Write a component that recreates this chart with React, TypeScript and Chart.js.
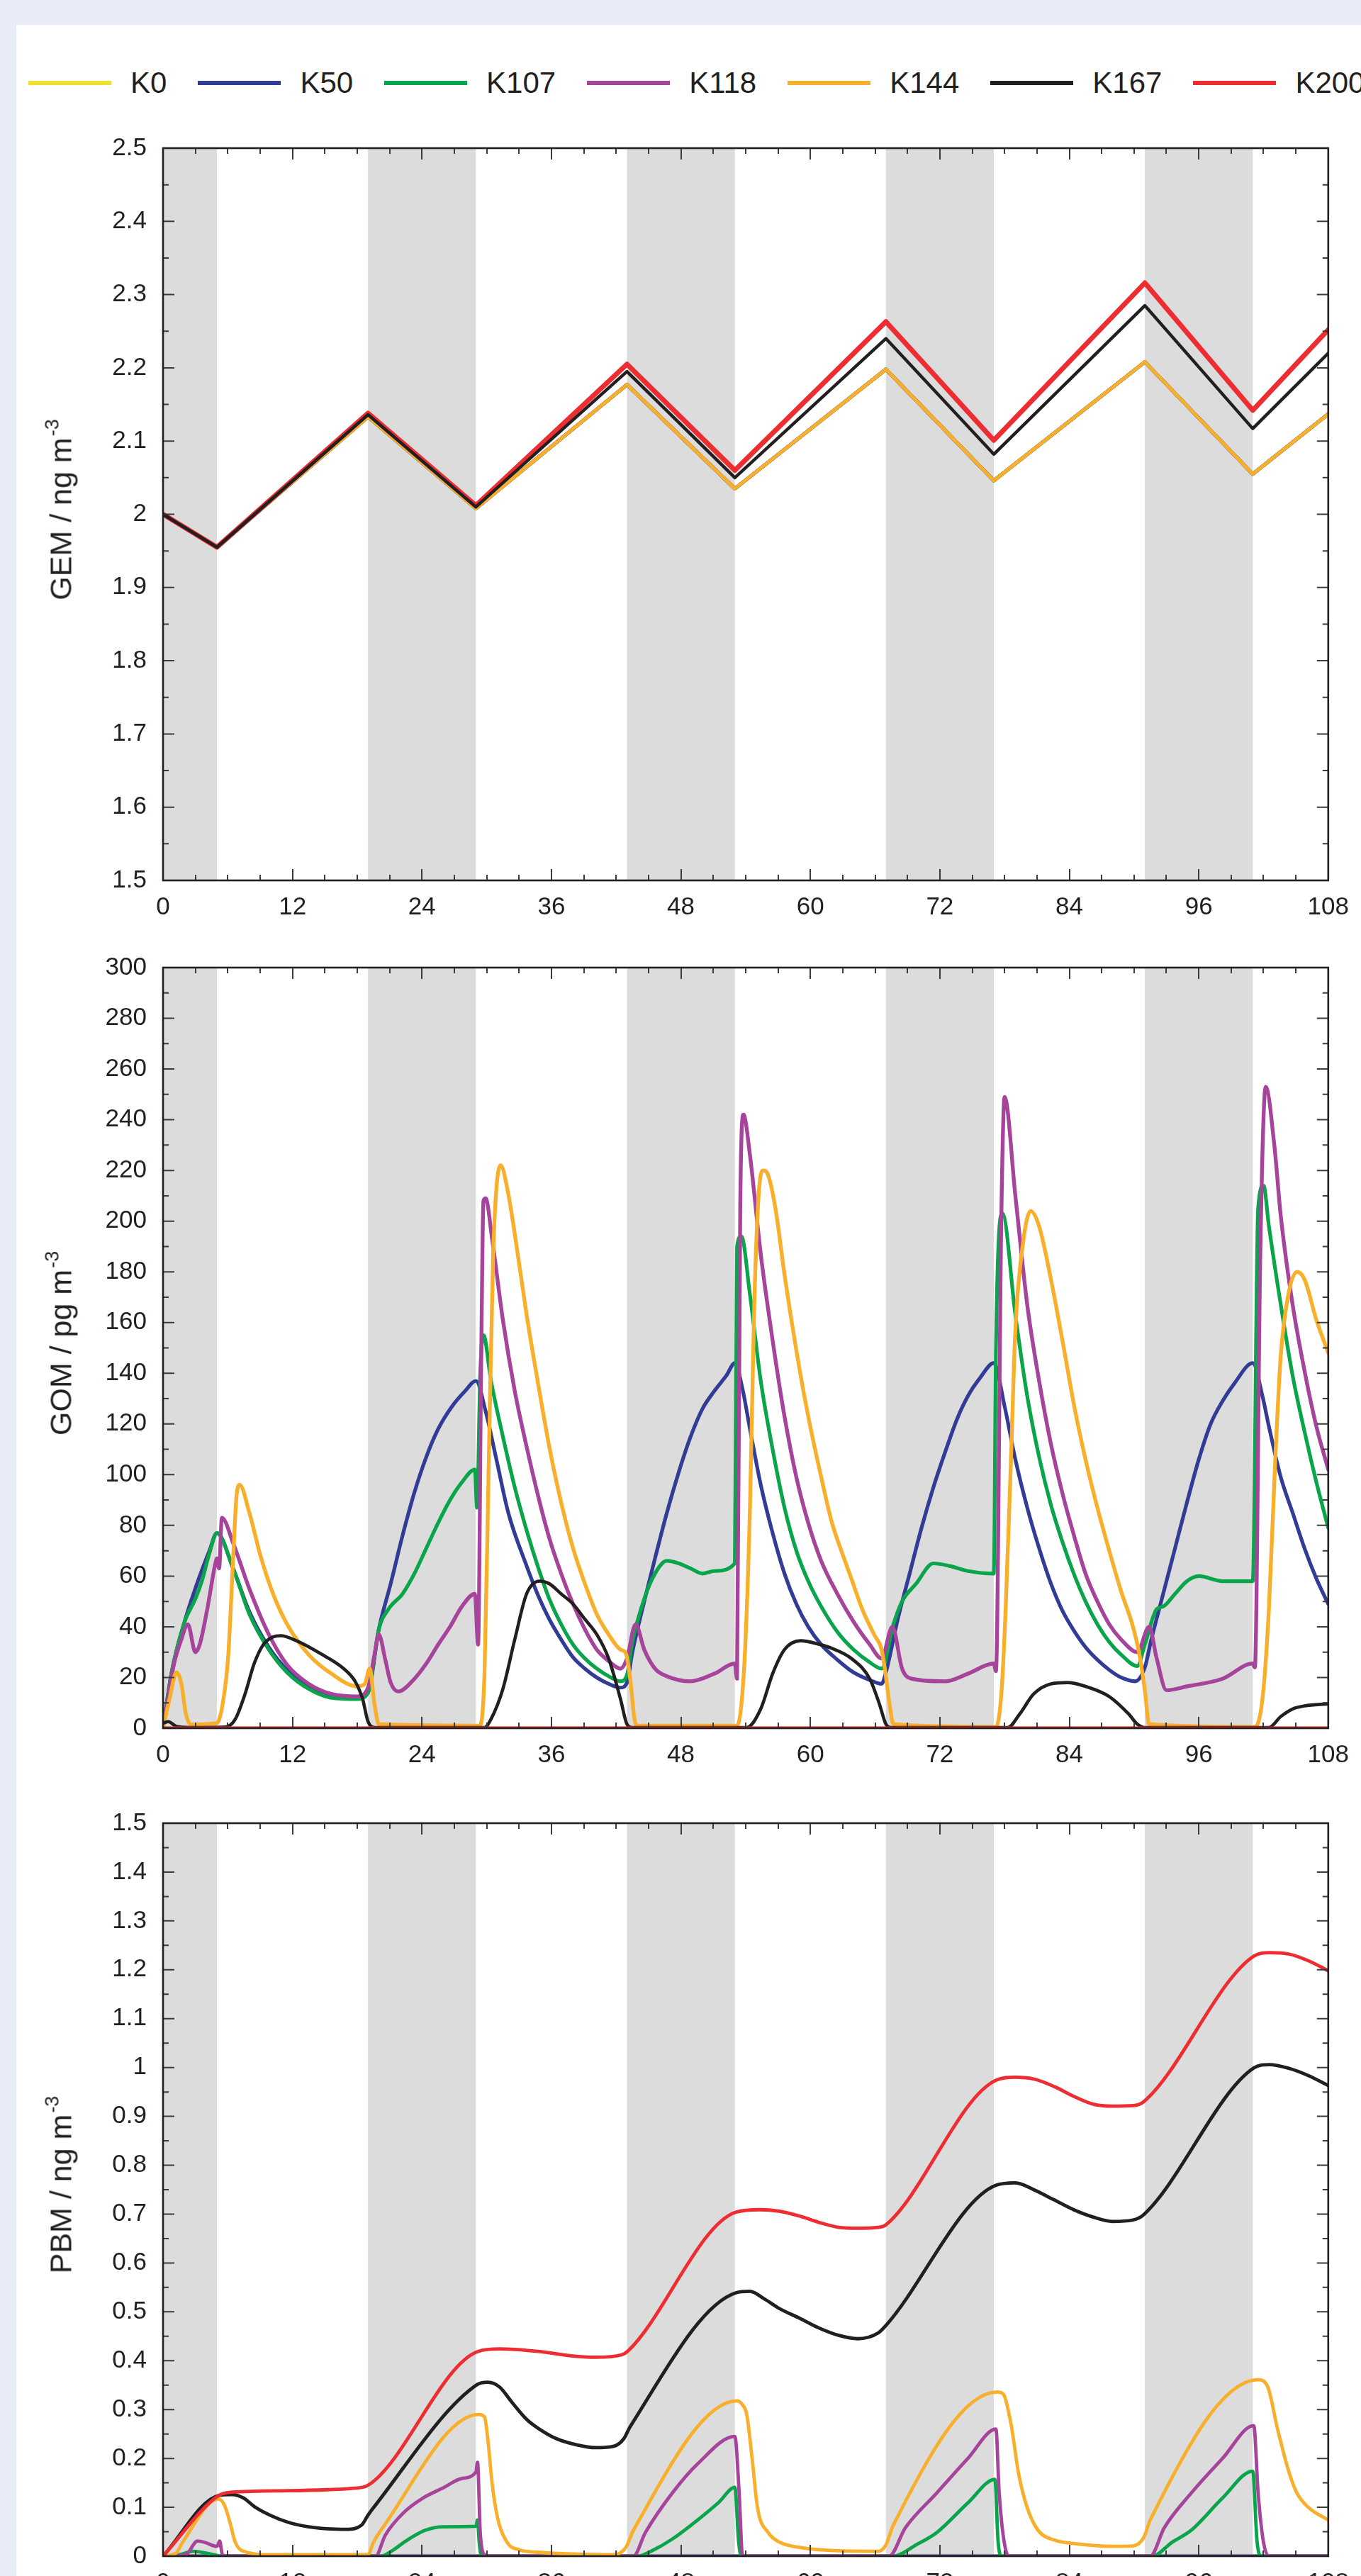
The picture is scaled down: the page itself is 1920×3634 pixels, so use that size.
import React, { useEffect, useRef } from "react";
import { Chart, registerables } from "chart.js";
Chart.register(...registerables);

// ---------------- data ----------------
const SERIES_NAMES = ["K0", "K50", "K107", "K118", "K144", "K167", "K200"];
const SERIES_COLORS = ["#f0e12e", "#323c96", "#0aa54a", "#a6449b", "#f8b02c", "#231f20", "#ee2d33"];

const X_TICKS = [0, 12, 24, 36, 48, 60, 72, 84, 96, 108];
const GEM_TICKS = [1.5, 1.6, 1.7, 1.8, 1.9, 2, 2.1, 2.2, 2.3, 2.4, 2.5];
const GOM_TICKS = [0, 20, 40, 60, 80, 100, 120, 140, 160, 180, 200, 220, 240, 260, 280, 300];
const PBM_TICKS = [0, 0.1, 0.2, 0.3, 0.4, 0.5, 0.6, 0.7, 0.8, 0.9, 1, 1.1, 1.2, 1.3, 1.4, 1.5];
const NIGHTS: [number, number][] = [[0, 5], [19, 29], [43, 53], [67, 77], [91, 101]];

// GEM (ng m-3): K0..K144 overlap each other
const GEM_T = [0, 5, 19, 29, 43, 53, 67, 77, 91, 101, 108];
const GEM_K0 = [2.0, 1.955, 2.133, 2.008, 2.177, 2.035, 2.198, 2.046, 2.208, 2.055, 2.137];
const GEM_K50 = [2.0, 1.955, 2.133, 2.008, 2.177, 2.035, 2.198, 2.046, 2.208, 2.055, 2.137];
const GEM_K107 = [2.0, 1.955, 2.133, 2.008, 2.177, 2.035, 2.198, 2.046, 2.208, 2.055, 2.137];
const GEM_K118 = [2.0, 1.955, 2.133, 2.008, 2.177, 2.035, 2.198, 2.046, 2.208, 2.055, 2.137];
const GEM_K144 = [2.0, 1.955, 2.133, 2.008, 2.177, 2.035, 2.198, 2.046, 2.208, 2.055, 2.137];
const GEM_K167 = [2.0, 1.955, 2.136, 2.010, 2.195, 2.050, 2.240, 2.082, 2.285, 2.117, 2.220];
const GEM_K200 = [2.0, 1.955, 2.138, 2.012, 2.205, 2.060, 2.263, 2.101, 2.316, 2.142, 2.252];

// GOM (pg m-3): [hour, value]
const GOM_K0: [number, number][] = [[0, 0], [108, 0]];
const GOM_K50: [number, number][] = [[0,0],[0.8,22],[2,42],[3.4,60],[4.3,70],[5,77],[6.5,63],[8,46],[9.8,32],[11.5,23],[13.5,16.5],[15.6,13],[18,12],[19,14],[20,39],[21.1,57],[22.2,76],[23.3,93],[24.4,107],[25.5,118],[26.8,127],[28,133],[29,137],[29.9,125],[30.9,106],[32,85],[33.7,64],[34.8,52],[35.8,43],[36.9,35],[38,28],[39.1,23.5],[40.2,20],[41.3,17.5],[42.4,16],[43,18],[43.5,30],[44.6,50],[45.6,67],[46.7,85],[47.8,101],[48.9,115],[50,126],[51.1,133],[52.2,139],[53,144],[53.7,134],[54.4,118],[55.4,96],[56.5,77],[57.6,61],[58.7,49],[59.8,40],[61,33],[62.5,27],[64,22],[65.5,19],[66.6,17.5],[67,22],[68.1,43],[69.2,61],[70.3,79],[71.4,95],[72.5,109],[73.6,122],[74.6,131],[75.7,138],[77,144],[78,127],[79,106],[80.1,87],[81.2,71],[82.3,57],[83.4,46],[84.5,38],[85.5,32],[86.6,27],[87.7,23],[88.8,20],[90.1,18.5],[91,24],[91.6,35],[92.7,53],[93.8,71],[94.9,89],[96,106],[97.1,120],[98.2,129],[99.3,136],[101,144],[101.9,131],[102.5,119],[103.6,99],[104.7,85],[105.8,71],[106.9,59],[108,49]];
const GOM_K107: [number, number][] = [[0,0],[0.8,22],[2,42],[3,51],[3.6,58],[4.3,69],[5,77],[6.5,63],[8,45],[9.8,31],[11.5,22],[13.5,15.5],[15.6,12],[18,11.5],[19,14],[20,39],[20.9,47],[22.2,53],[23.3,61],[24.4,71],[25.5,81],[26.6,90],[27.7,97],[28.9,102],[29.1,87],[29.4,140],[29.7,155],[30.4,137],[31.5,115],[32.6,95],[33.7,78],[34.8,63],[35.8,51],[36.9,41],[38,33],[39.1,27.5],[40.2,23.5],[41.3,20.5],[42.4,18.5],[43,21],[43.5,34],[44.6,51],[45.6,61],[46.7,66],[47.8,65],[48.9,63],[50,61],[51.1,62],[53,65],[53.2,190],[53.6,194],[54.4,171],[55.4,137],[56.5,110],[57.6,87],[58.7,70],[59.8,58],[61,48],[62.5,38],[64,31],[65.5,26],[66.6,23.5],[67.7,41],[68.5,50],[69.8,57],[71.4,65],[72.9,64],[74.6,62],[77,61],[77.2,150],[77.8,203],[79,163],[80.1,131],[81.2,107],[82.3,88],[83.4,73],[84.5,60],[85.5,50],[86.6,41],[87.7,34],[88.8,29],[90.3,24.5],[91,33],[92.1,47],[92.7,48],[93.8,53],[94.9,58],[96,60],[98.2,58],[101,58],[101.5,205],[102,214],[102.5,198],[103.6,167],[104.7,139],[105.8,117],[106.9,97],[108,79]];
const GOM_K118: [number, number][] = [[0,0],[1,25],[1.7,35],[2.3,41],[3,30],[3.4,33],[4.1,47],[4.85,65],[5,67],[5.2,63],[5.45,83],[6.5,73],[8,55],[9.8,37],[11.5,25],[13.5,17.5],[15.6,13.5],[18,12.5],[19,16],[19.6,29],[20,37],[20.6,27],[21.1,18],[21.8,14.5],[23.3,19.5],[24.4,25.5],[25.5,33],[26.6,40],[27.7,48],[28.9,53],[29.2,33],[29.5,150],[29.7,208],[29.9,209],[30.5,193],[31.5,161],[32.6,133],[33.7,111],[34.8,91],[35.8,75],[36.9,61],[38,49],[39.1,39],[40.2,31],[41.3,26.5],[42.4,23.5],[43,27.5],[43.8,41],[44.6,31],[45.6,23.5],[46.7,20.5],[48.9,18.5],[51.1,21.5],[53,25.5],[53.2,19.5],[53.5,206],[53.8,242],[54.4,226],[55.4,187],[56.5,153],[57.6,123],[58.7,99],[59.8,81],[61,66],[62.5,53],[64,42],[65.5,33],[66.6,27.5],[67.6,40],[68.5,23.5],[69.4,19.5],[72.5,18.5],[74.6,21.5],[77,25.5],[77.2,22.5],[77.7,202],[78,249],[79,210],[80.1,167],[81.2,137],[82.3,112],[83.4,92],[84.5,75],[85.5,61],[86.6,50],[87.7,41],[88.8,35],[90.3,30],[91.4,40],[92.1,27.5],[93,15],[94.9,16.5],[98.2,19.5],[101,25.5],[101.2,24],[101.7,187],[102.2,253],[103,230],[103.6,202],[104.7,167],[105.8,141],[106.9,119],[108,102]];
const GOM_K144: [number, number][] = [[0,0],[0.6,11.5],[1.25,22],[1.7,17.5],[2.1,6],[2.6,1.5],[5,2],[5.6,11.5],[6.05,29],[6.5,67],[6.8,91],[7.1,96],[8,85],[9.1,67],[10.2,53],[11.5,41],[13.5,29],[15.6,21.5],[18,16.5],[18.7,17.5],[19.15,23.5],[19.6,9.5],[20,1.6],[29.3,1],[29.8,22],[30.2,107],[30.6,187],[31.3,222],[31.9,213],[32.6,195],[33.7,163],[34.8,135],[35.8,111],[36.9,89],[38,71],[39.1,57],[40.2,45],[41.3,37],[42.4,31],[42.9,29.5],[43.3,19.5],[43.7,3.6],[44,1],[53.2,1],[53.9,27],[54.4,87],[54.8,167],[55.2,210],[55.6,220],[56.1,218],[56.8,204],[57.6,179],[58.7,149],[59.8,123],[60.9,101],[62,81],[62.7,72],[63.8,59],[64.8,47],[65.9,37],[66.6,31],[66.9,23.5],[67.4,7.6],[67.7,1.6],[77.2,0.5],[77.7,13.5],[78.1,47],[78.6,107],[79,157],[79.7,191],[80.4,204],[81.2,198],[82.3,177],[83.4,152],[84.5,126],[85.5,106],[86.6,87],[87.7,70],[88.8,54],[89.9,40],[90.5,29],[91,15],[91.4,1.6],[101.2,0.5],[101.9,11.5],[102.5,47],[103.1,107],[103.6,147],[104.3,171],[105.1,180],[105.8,177],[106.9,161],[108,148]];
const GOM_K167: [number, number][] = [[0,2],[0.5,2.6],[1.2,0.8],[2.5,0.3],[5.8,0.5],[6.7,3.6],[7.6,13.5],[8.45,25.5],[9.3,33],[10.2,36],[10.9,36.5],[12.4,34.4],[14.6,29.4],[16.75,23.5],[17.8,18.5],[18.5,11.5],[19,2.6],[19.6,0.3],[29.8,0.3],[30.4,3.6],[31.5,15.5],[32.6,35],[33.7,53],[34.9,58],[35.8,57],[36.9,53],[38,49],[39.1,43],[40.2,37],[41.3,27.5],[42.4,11.5],[43,1.6],[43.5,0.3],[54.1,0.3],[55.4,7.6],[56.5,21.5],[57.6,31],[59.1,34.5],[60.9,33],[62,31.5],[63.8,27.5],[65.5,19.5],[66.4,9.5],[67,1.6],[67.5,0.3],[78.3,0.3],[79.4,5.6],[80.7,13.5],[82.3,17.5],[83.8,18],[85.5,16.5],[87.7,12.5],[89.5,5.6],[90.3,1.6],[91,0.3],[102.5,0.3],[103.6,4.6],[104.7,7.6],[105.8,8.8],[108,9.6]];
const GOM_K200: [number, number][] = [[0, 0], [108, 0]];

// PBM (ng m-3): [hour, value]
const PBM_K0: [number, number][] = [[0, 0], [108, 0]];
const PBM_K50: [number, number][] = [[0, 0], [108, 0]];
const PBM_K107: [number, number][] = [[0,0],[1.5,0.003],[2.8,0.01],[4.5,0.004],[5.5,0],[20.2,0],[21.3,0.012],[22.3,0.028],[23.3,0.042],[24.3,0.053],[25.9,0.06],[29,0.061],[29.15,0.074],[29.3,0.03],[29.5,0],[44,0],[45.4,0.012],[47.2,0.035],[49.6,0.075],[51.5,0.11],[53,0.141],[53.35,0.03],[53.6,0],[67.7,0],[69.8,0.023],[71.7,0.048],[74.6,0.109],[77.1,0.157],[77.4,0.03],[77.7,0],[91.7,0],[93.5,0.028],[95.3,0.053],[98.2,0.119],[101,0.174],[101.4,0.03],[101.8,0],[108,0]];
const PBM_K118: [number, number][] = [[0,0],[2.1,0.003],[3.2,0.031],[3.9,0.028],[5,0.02],[5.25,0.031],[5.5,0.003],[6,0],[19.7,0],[20.6,0.043],[22.3,0.089],[24.1,0.119],[25.9,0.139],[27.7,0.159],[29,0.172],[29.15,0.192],[29.4,0.048],[29.8,0.003],[30.2,0],[43.6,0],[44.7,0.048],[47.2,0.129],[49.6,0.19],[53,0.245],[53.4,0.129],[53.7,0.003],[54,0],[67.3,0],[68.8,0.058],[71.7,0.129],[74.6,0.2],[77.2,0.26],[77.5,0.129],[78.1,0.013],[78.5,0],[91.5,0],[92.8,0.058],[95.3,0.129],[98.2,0.2],[101.1,0.267],[101.5,0.129],[102,0.028],[102.5,0],[108,0]];
const PBM_K144: [number, number][] = [[0,0],[1.2,0.006],[1.8,0.028],[5.14,0.117],[5.7,0.104],[6.2,0.069],[6.7,0.028],[7.45,0.01],[9.9,0.003],[19,0.003],[19.5,0.028],[20.2,0.053],[29.25,0.29],[29.8,0.285],[30.1,0.24],[30.5,0.149],[31,0.079],[31.9,0.028],[33,0.013],[34.75,0.008],[41.8,0.003],[42.9,0.018],[43.6,0.053],[53.2,0.318],[53.7,0.31],[54.1,0.29],[54.6,0.2],[55.1,0.099],[56.1,0.048],[57.2,0.028],[59,0.018],[62.6,0.011],[66.3,0.01],[67,0.023],[67.7,0.064],[77.3,0.336],[77.9,0.331],[78.6,0.27],[79.3,0.169],[80.1,0.099],[81.1,0.053],[82.6,0.033],[84.4,0.026],[88,0.02],[89.9,0.021],[90.9,0.038],[91.5,0.074],[101.5,0.361],[102.4,0.346],[103.3,0.26],[104.4,0.169],[105.1,0.129],[106.2,0.099],[108,0.074]];
const PBM_K167: [number, number][] = [[0,0],[5.14,0.124],[6.4,0.126],[7.45,0.119],[8.5,0.101],[9.9,0.084],[11.7,0.0685],[13.5,0.06],[15.2,0.056],[17,0.055],[18.4,0.0635],[19,0.084],[19.5,0.099],[29.1,0.351],[30.1,0.356],[31.2,0.346],[32.3,0.316],[33.7,0.28],[34.75,0.262],[36.5,0.24],[38.3,0.228],[40.1,0.222],[41.8,0.225],[42.7,0.24],[43.3,0.265],[53.1,0.539],[54.4,0.542],[55.7,0.527],[57.1,0.507],[59,0.487],[60.8,0.467],[62.6,0.452],[64.4,0.445],[66.3,0.457],[67,0.472],[77.2,0.759],[79,0.764],[80.8,0.749],[82.6,0.729],[84.4,0.709],[86.2,0.694],[88,0.685],[89.9,0.688],[90.9,0.699],[101.1,0.999],[102.55,1.006],[104.4,0.998],[106.2,0.983],[108,0.963]];
const PBM_K200: [number, number][] = [[0,0],[5.14,0.124],[6.4,0.131],[11.7,0.134],[15.2,0.136],[17.7,0.139],[19,0.145],[29.2,0.419],[31.2,0.424],[34.75,0.419],[38.3,0.409],[40.1,0.407],[42.5,0.412],[43.1,0.42],[53.1,0.704],[55.3,0.709],[57.1,0.706],[59,0.696],[60.8,0.683],[62.6,0.673],[64.4,0.671],[66.3,0.673],[67,0.678],[77.2,0.974],[79,0.98],[80.8,0.976],[82.6,0.961],[84.4,0.941],[86.2,0.925],[88,0.921],[89.9,0.922],[90.9,0.93],[101.1,1.228],[102.55,1.235],[104.4,1.232],[106.2,1.218],[108,1.198]];

// ---------------- layout / style ----------------
const FONT = "'Liberation Sans', Arial, Helvetica, sans-serif";
const INK = "#231f20";
const PLOT_L = 230;
const PLOT_R = 1885;
const PAD_TOP = 30;
const BOTTOM_H = 90;

type Pair = [number, number];

const fmt = (v: number) => String(parseFloat(Number(v).toFixed(2)));

function makePlugin(yTicks: number[]) {
  return {
    id: "frameTicks",
    beforeDatasetsDraw(chart: any) {
      const { ctx, chartArea: a, scales } = chart;
      const x = scales.x;
      ctx.save();
      ctx.fillStyle = "#dcdcdc";
      for (const [s, e] of NIGHTS) {
        const x0 = x.getPixelForValue(s);
        const x1 = x.getPixelForValue(e);
        ctx.fillRect(x0, a.top, x1 - x0, a.bottom - a.top);
      }
      ctx.restore();
    },
    afterDatasetsDraw(chart: any) {
      const { ctx, chartArea: a, scales } = chart;
      const x = scales.x;
      const y = scales.y;
      ctx.save();
      ctx.strokeStyle = "#3b3b3b";
      ctx.lineWidth = 2;
      ctx.beginPath();
      for (let i = 0; i < X_TICKS.length - 1; i++) {
        const t0 = X_TICKS[i];
        const step = (X_TICKS[i + 1] - t0) / 4;
        for (let k = 0; k < 4; k++) {
          if (i === 0 && k === 0) continue;
          const px = Math.round(x.getPixelForValue(t0 + k * step));
          const L = k === 0 ? 16 : 8;
          ctx.moveTo(px, a.top);
          ctx.lineTo(px, a.top + L);
          ctx.moveTo(px, a.bottom);
          ctx.lineTo(px, a.bottom - L);
        }
      }
      for (let i = 0; i < yTicks.length; i++) {
        const py = y.getPixelForValue(yTicks[i]);
        if (i > 0 && i < yTicks.length - 1) {
          ctx.moveTo(a.left, py);
          ctx.lineTo(a.left + 16, py);
          ctx.moveTo(a.right, py);
          ctx.lineTo(a.right - 16, py);
        }
        if (i < yTicks.length - 1) {
          const pm = y.getPixelForValue((yTicks[i] + yTicks[i + 1]) / 2);
          ctx.moveTo(a.left, pm);
          ctx.lineTo(a.left + 8, pm);
          ctx.moveTo(a.right, pm);
          ctx.lineTo(a.right - 8, pm);
        }
      }
      ctx.stroke();
      ctx.strokeStyle = INK;
      ctx.lineWidth = 2.6;
      ctx.strokeRect(a.left, a.top, a.right - a.left, a.bottom - a.top);
      ctx.restore();
    },
  };
}

type PanelProps = {
  top: number;
  bottom: number;
  yMin: number;
  yMax: number;
  yTicks: number[];
  series: Pair[][];
  widths: number[];
  orders: number[];
  smooth: boolean;
  title: string;
};

function Panel(props: PanelProps) {
  const ref = useRef<HTMLCanvasElement | null>(null);
  const plotH = props.bottom - props.top;
  const canvasH = PAD_TOP + plotH + BOTTOM_H;
  useEffect(() => {
    if (!ref.current) return;
    const datasets = props.series.map((s, i) => ({
      label: SERIES_NAMES[i],
      data: s.map(([t, v]) => ({ x: t, y: v })),
      borderColor: SERIES_COLORS[i],
      backgroundColor: SERIES_COLORS[i],
      borderWidth: props.widths[i],
      pointRadius: 0,
      fill: false,
      tension: 0,
      cubicInterpolationMode: props.smooth ? ("monotone" as const) : ("default" as const),
      order: props.orders[i],
      borderJoinStyle: "round" as const,
      borderCapStyle: "round" as const,
    }));
    const chart = new Chart(ref.current, {
      type: "line",
      data: { datasets },
      options: {
        animation: false,
        responsive: false,
        maintainAspectRatio: false,
        events: [],
        layout: { padding: { top: PAD_TOP, left: 0, right: 1920 - PLOT_R, bottom: 0 } },
        plugins: { legend: { display: false }, tooltip: { enabled: false } },
        scales: {
          x: {
            type: "linear",
            min: 0,
            max: 108,
            grid: { display: false, drawTicks: false },
            border: { display: false },
            afterBuildTicks: (s: any) => {
              s.ticks = X_TICKS.map((v) => ({ value: v }));
            },
            afterFit: (s: any) => {
              s.height = BOTTOM_H;
            },
            ticks: {
              autoSkip: false,
              maxRotation: 0,
              padding: 17,
              color: INK,
              font: { family: FONT, size: 35 },
              callback: (v: any) => fmt(v),
            },
          },
          y: {
            type: "linear",
            min: props.yMin,
            max: props.yMax,
            grid: { display: false, drawTicks: false },
            border: { display: false },
            afterBuildTicks: (s: any) => {
              s.ticks = props.yTicks.map((v) => ({ value: v }));
            },
            afterFit: (s: any) => {
              s.width = PLOT_L;
            },
            ticks: {
              autoSkip: false,
              padding: 23,
              color: INK,
              font: { family: FONT, size: 35 },
              callback: (v: any) => fmt(v),
            },
          },
        },
      },
      plugins: [makePlugin(props.yTicks)],
    });
    return () => chart.destroy();
  }, []);
  return (
    <>
      <canvas
        ref={ref}
        width={1920}
        height={canvasH}
        style={{ position: "absolute", left: 0, top: props.top - PAD_TOP, width: 1920, height: canvasH }}
      />
      <div
        style={{
          position: "absolute",
          left: 86,
          top: (props.top + props.bottom) / 2,
          transform: "translate(-50%, -50%) rotate(-90deg)",
          whiteSpace: "nowrap",
          fontFamily: FONT,
          fontSize: 43,
          lineHeight: 1,
          color: INK,
        }}
      >
        {props.title}
        <span style={{ fontSize: 27, position: "relative", top: -18, marginLeft: 2 }}>-3</span>
      </div>
    </>
  );
}

function Legend() {
  return (
    <div
      style={{
        position: "absolute",
        left: 40,
        top: 93,
        height: 48,
        display: "flex",
        alignItems: "center",
        whiteSpace: "nowrap",
        fontFamily: FONT,
        fontSize: 42,
        color: INK,
      }}
    >
      {SERIES_NAMES.map((n, i) => (
        <div key={n} style={{ display: "flex", alignItems: "center", marginRight: 44 }}>
          <div style={{ width: 117, height: 6, background: SERIES_COLORS[i], marginRight: 27 }} />
          <span style={{ lineHeight: 1.15 }}>{n}</span>
        </div>
      ))}
    </div>
  );
}

const ORDERS = [6, 5, 4, 3, 2, 1, 0];

export default function App() {
  const gem: Pair[][] = [GEM_K0, GEM_K50, GEM_K107, GEM_K118, GEM_K144, GEM_K167, GEM_K200].map((vals) =>
    vals.map((v, i) => [GEM_T[i], v] as Pair)
  );
  const gom: Pair[][] = [GOM_K0, GOM_K50, GOM_K107, GOM_K118, GOM_K144, GOM_K167, GOM_K200];
  const pbm: Pair[][] = [PBM_K0, PBM_K50, PBM_K107, PBM_K118, PBM_K144, PBM_K167, PBM_K200];
  return (
    <div
      style={{
        position: "absolute",
        left: 0,
        top: 0,
        width: 1920,
        height: 3634,
        overflow: "hidden",
        background: "#e8ecf6",
      }}
    >
      <div style={{ position: "absolute", left: 23, top: 35, right: 0, bottom: 0, background: "#ffffff" }} />
      <Legend />
      <Panel
        top={195}
        bottom={1242}
        yMin={1.5}
        yMax={2.5}
        yTicks={GEM_TICKS}
        series={gem}
        widths={[5, 5, 5, 5, 5, 4.5, 7]}
        orders={[6, 5, 4, 3, 2, 0, 1]}
        smooth={false}
        title="GEM / ng m"
      />
      <Panel
        top={1351}
        bottom={2438}
        yMin={0}
        yMax={300}
        yTicks={GOM_TICKS}
        series={gom}
        widths={[5.2, 5.2, 5.2, 5.4, 5.4, 4.6, 5.2]}
        orders={ORDERS}
        smooth={true}
        title="GOM / pg m"
      />
      <Panel
        top={2558}
        bottom={3606}
        yMin={0}
        yMax={1.5}
        yTicks={PBM_TICKS}
        series={pbm}
        widths={[4.8, 4.8, 4.8, 4.8, 4.8, 4.8, 4.8]}
        orders={ORDERS}
        smooth={true}
        title="PBM / ng m"
      />
    </div>
  );
}
